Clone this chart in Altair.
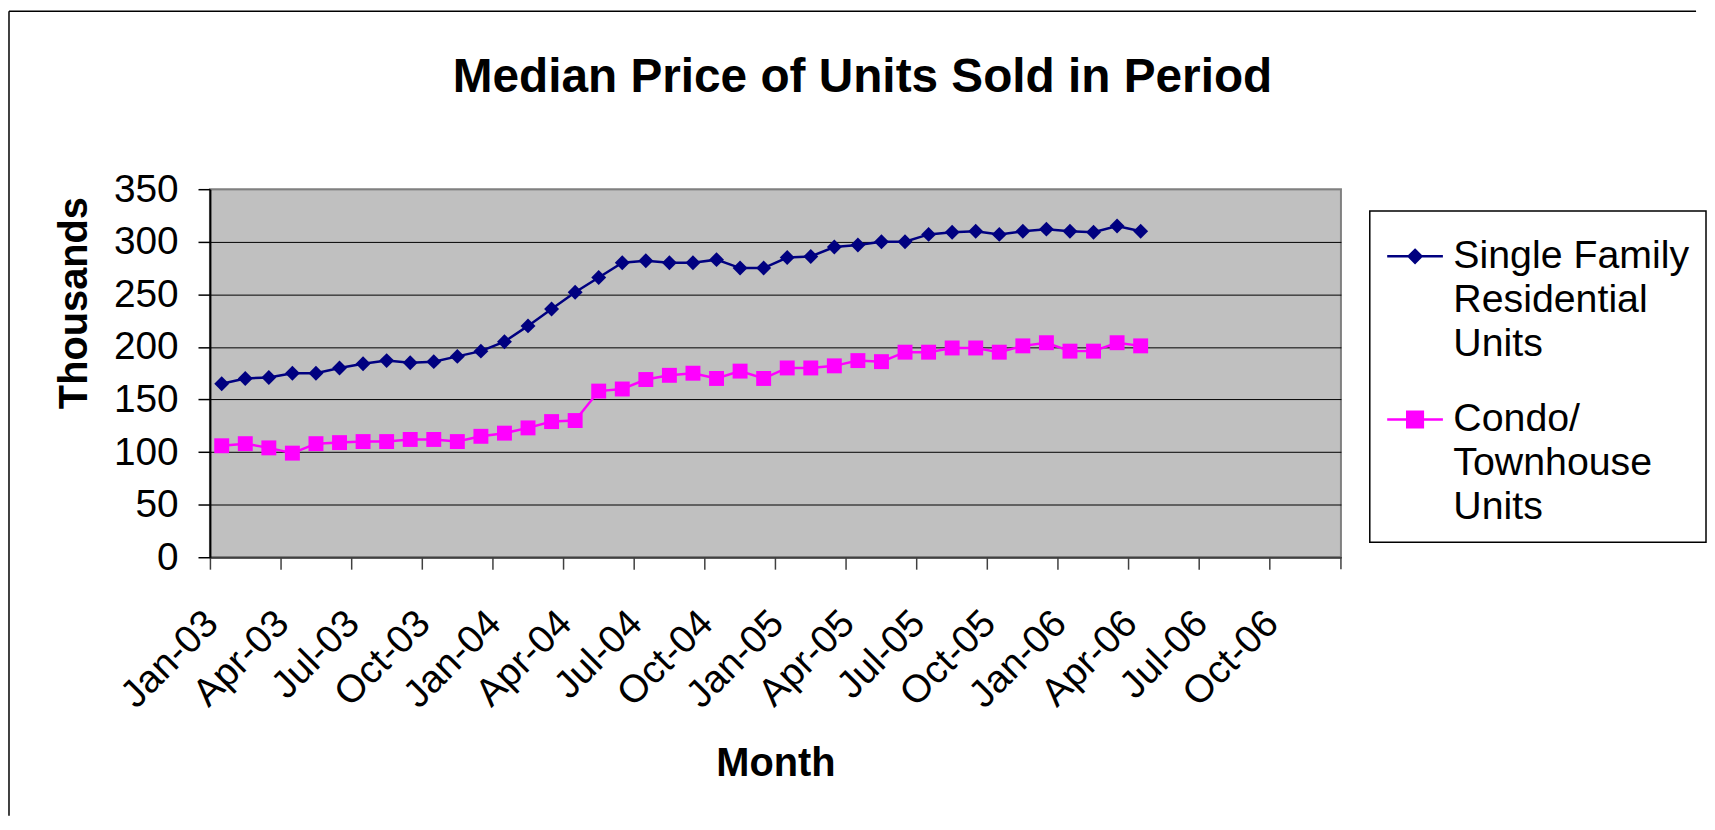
import altair as alt
import pandas as pd

FONT = "Liberation Sans"

# x categories (month slots of the date axis) and tick labels
months_all = [d.strftime("%b-%y") for d in pd.date_range("2003-01-01", periods=48, freq="MS")]
tick_months = months_all[::3]

# series values (thousands), Jan-03 .. Apr-06
sfr_values = [165, 170, 171, 175, 175, 180, 184, 187, 185, 186, 191, 196, 205, 220, 236, 252,
              266, 280, 282, 280, 280, 283, 275, 275, 285, 286, 295, 297, 300, 300, 307, 309,
              310, 307, 310, 312, 310, 309, 315, 310]
condo_values = [106, 108, 104, 99, 108, 109, 110, 110, 112, 112, 110, 115, 118, 123, 129, 130,
                158, 160, 169, 173, 175, 170, 177, 170, 180, 180, 182, 187, 186, 195, 195, 199,
                199, 195, 201, 204, 196, 196, 204, 201]

series_names = ["Single Family|Residential|Units", "Condo/|Townhouse|Units"]
series_colors = ["#000080", "#FF00FF"]
chart_title = "Median Price of Units Sold in Period"

rows = []
for name, vals in zip(series_names, [sfr_values, condo_values]):
    for m, v in zip(months_all, vals):
        rows.append({"month": m, "value": v, "series": name})
df = pd.DataFrame(rows)

x_enc = alt.X(
    "month:O",
    scale=alt.Scale(type="band", domain=months_all, paddingInner=0, paddingOuter=0),
    axis=alt.Axis(
        values=tick_months, bandPosition=0, labelAngle=-45, labelAlign="right",
        labelBaseline="middle", labelFontSize=39, labelFont=FONT, labelColor="black",
        labelOffset=-10, labelPadding=48, labelOverlap=False, labelLimit=400,
        tickSize=12, tickColor="#404040", tickWidth=1.5,
        domainColor="#404040", domainWidth=2, grid=False,
        title="Month", titleFontSize=40, titleFont=FONT, titleFontWeight="bold",
        titleColor="black", titleY=187, titleBaseline="top",
    ),
)
y_enc = alt.Y(
    "value:Q",
    scale=alt.Scale(domain=[0, 350], nice=False),
    axis=alt.Axis(
        values=list(range(0, 351, 50)), tickSize=12, tickColor="black", tickWidth=1.5,
        domainColor="black", domainWidth=2,
        gridColor={"condition": {"test": "datum.value >= 350", "value": "#808080"}, "value": "black"},
        gridWidth=1,
        labelFontSize=39, labelFont=FONT, labelColor="black", labelPadding=20,
        title="Thousands", titleFontSize=40, titleFont=FONT, titleFontWeight="bold",
        titleColor="black", titleAngle=270, titleX=-136, titleY=114,
        titleBaseline="middle", titleAlign="center",
    ),
)
color_enc = alt.Color("series:N", scale=alt.Scale(domain=series_names, range=series_colors), legend=None)

base = alt.Chart(df)

lines = base.mark_line(strokeWidth=2.5).encode(x=x_enc, y=y_enc, color=color_enc)

points = base.mark_point(filled=True, size=225, opacity=1).encode(
    x=x_enc, y=y_enc, color=color_enc,
    shape=alt.Shape("series:N", scale=alt.Scale(domain=series_names, range=["diamond", "square"]), legend=None),
)

legend_paths = [
    "M-1,0L1,0M0,-0.23L0.23,0L0,0.23L-0.23,0Z",
    "M-1,0L1,0M-0.28,-0.28L0.28,-0.28L0.28,0.28L-0.28,0.28Z",
]
leg = alt.Legend(
    title=None, orient="none", legendX=1166, legendY=22,
    labelExpr="split(datum.label, '|')", labelFontSize=39.5, labelFont=FONT,
    labelColor="black", labelLimit=500, labelOffset=9,
    symbolSize=3136, symbolStrokeWidth=2.5, symbolOpacity=1,
    padding=16, rowPadding=27, strokeColor="black", fillColor="white",
)
legend_layer = base.mark_point(filled=True, opacity=0).encode(
    x=x_enc, y=y_enc,
    shape=alt.Shape("series:N", scale=alt.Scale(domain=series_names, range=legend_paths), legend=leg),
    fill=alt.Fill("series:N", scale=alt.Scale(domain=series_names, range=series_colors), legend=leg),
    stroke=alt.Stroke("series:N", scale=alt.Scale(domain=series_names, range=series_colors), legend=leg),
)

frame_df = pd.DataFrame({"a": [0]})
frame_left = alt.Chart(frame_df).mark_rule(color="black", strokeWidth=1.5).encode(
    x=alt.value(-202), y=alt.value(-179), y2=alt.value(630))
frame_top = alt.Chart(frame_df).mark_rule(color="black", strokeWidth=1.5).encode(
    x=alt.value(-202), x2=alt.value(1494), y=alt.value(-179))
end_tick = alt.Chart(frame_df).mark_rule(color="#404040", strokeWidth=1.5).encode(
    x=alt.value(1137), y=alt.value(370), y2=alt.value(382))

title_df = pd.DataFrame({"t": [chart_title]})
title_text = alt.Chart(title_df).mark_text(
    font=FONT, fontSize=48, fontWeight="bold", color="black", align="center", baseline="alphabetic"
).encode(text="t:N", x=alt.value(656), y=alt.value(-98))

chart = alt.layer(lines, points, legend_layer, frame_left, frame_top, end_tick, title_text).resolve_scale(
    shape="independent", fill="independent", stroke="independent"
).properties(
    width=1137, height=370, padding={"left": 0, "top": 0, "right": 0, "bottom": 0},
    background="white",
).configure(
    style={"guide-label": {"lineHeight": 44}}
).configure_view(
    fill="#C0C0C0", stroke="#808080", strokeWidth=2
).configure_legend(
    strokeWidth=1.5
)

chart.save("out.html", embed_options={"renderer": "svg", "actions": False})
